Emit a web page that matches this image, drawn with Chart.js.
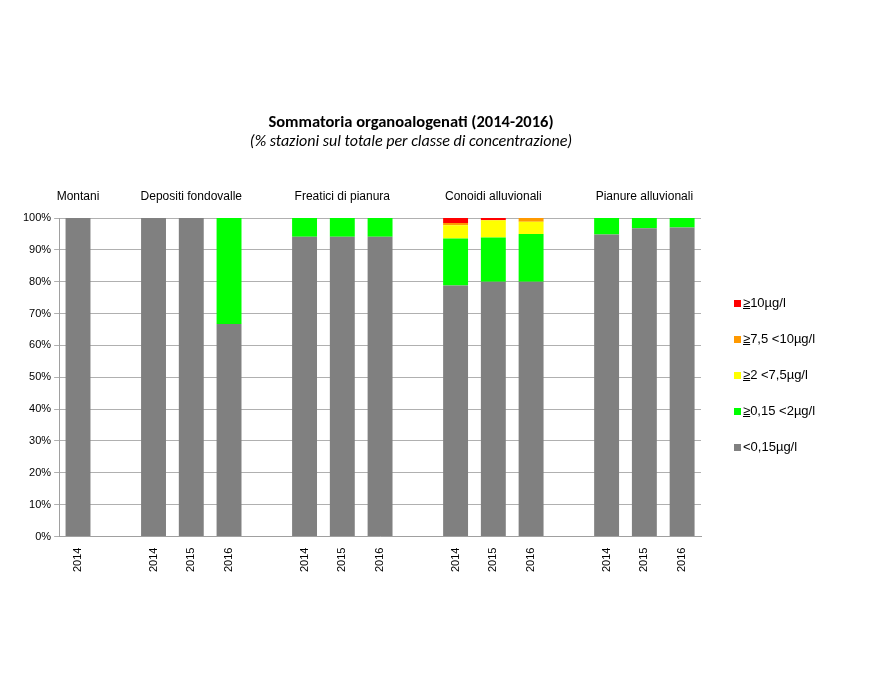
<!DOCTYPE html>
<html><head><meta charset="utf-8">
<script src="https://cdn.jsdelivr.net/npm/chart.js@4"></script>
<style>
body{margin:0;background:#fff;font-family:"Liberation Sans",Arial,sans-serif}
#wrap{position:relative;width:882px;height:682px}
#t1{position:absolute;top:111px;left:0;width:822px;text-align:center;font-family:Calibri,Carlito,"Liberation Sans";font-weight:bold;font-size:16.5px}
#t2{position:absolute;top:131px;left:0;width:822px;text-align:center;font-style:italic;font-size:16px;font-family:Carlito,"Liberation Sans"}
#leg{position:absolute;left:734px;top:296px;font-size:13px}
#leg div{height:36px;line-height:14px}
#leg span.b{display:inline-block;width:7px;height:7px;margin-right:2px}
</style></head><body>
<div id="wrap"><canvas id="c" width="882" height="682"></canvas>
<div id="t1">Sommatoria organoalogenati (2014-2016)</div>
<div id="t2">(% stazioni sul totale per classe di concentrazione)</div>
<div id="leg"></div></div>
<script>
const categories=['2014','','2014','2015','2016','','2014','2015','2016','','2014','2015','2016','','2014','2015','2016'];
const groups=[['Montani',0,0],['Depositi fondovalle',2,4],['Freatici di pianura',6,8],['Conoidi alluvionali',10,12],['Pianure alluvionali',14,16]];
const lt015=[100,null,100,100,66.7,null,94.1,94.1,94.1,null,78.8,80,80,null,94.8,96.8,97];
const s015_2=[0,null,0,0,33.3,null,5.9,5.9,5.9,null,14.8,13.9,15,null,5.2,3.2,3];
const s2_75=[0,null,0,0,0,null,0,0,0,null,4.1,5.4,3.8,null,0,0,0];
const s75_10=[0,null,0,0,0,null,0,0,0,null,0.7,0,1.2,null,0,0,0];
const ge10=[0,null,0,0,0,null,0,0,0,null,1.6,0.7,0,null,0,0,0];
const names=['<0,15µg/l','≥0,15 <2µg/l','≥2 <7,5µg/l','≥7,5 <10µg/l','≥10µg/l'];
const colors=['#808080','#00ff00','#ffff00','#ff9900','#ff0000'];
const series=[lt015,s015_2,s2_75,s75_10,ge10];
const leg=document.getElementById('leg');
for(let i=4;i>=0;i--){const d=document.createElement('div');
 const t=names[i].startsWith('≥')?'<u>≥</u>'+names[i].slice(1):names[i].replace('<','&lt;');
 d.innerHTML='<span class="b" style="background:'+colors[i]+'"></span>'+t;leg.appendChild(d);}
const grp={id:'grp',afterDraw(ch){const x=ch.scales.x,c=ch.ctx;c.save();c.font='12px "Liberation Sans"';c.fillStyle='#000';c.textAlign='center';
 groups.forEach(g=>{const cx=(x.getPixelForValue(g[1])+x.getPixelForValue(g[2]))/2;c.fillText(g[0],cx,200);});c.restore();}};
new Chart(document.getElementById('c'),{type:'bar',
 data:{labels:categories,datasets:series.map((s,i)=>({label:names[i],data:s,backgroundColor:colors[i],barPercentage:0.66,categoryPercentage:1}))},
 options:{responsive:false,animation:false,layout:{padding:{top:218,right:181,bottom:107,left:20}},
  plugins:{legend:{display:false},tooltip:{enabled:false}},
  scales:{x:{stacked:true,grid:{display:false},border:{color:'#a0a0a0'},ticks:{color:'#000',font:{size:11},maxRotation:90,minRotation:90,autoSkip:false}},
   y:{stacked:true,min:0,max:100,ticks:{stepSize:10,color:'#000',font:{size:11},callback:v=>v+'%'},grid:{color:'#b0b0b0',tickLength:5},border:{color:'#a0a0a0'}}}},
 plugins:[grp]});
</script></body></html>
